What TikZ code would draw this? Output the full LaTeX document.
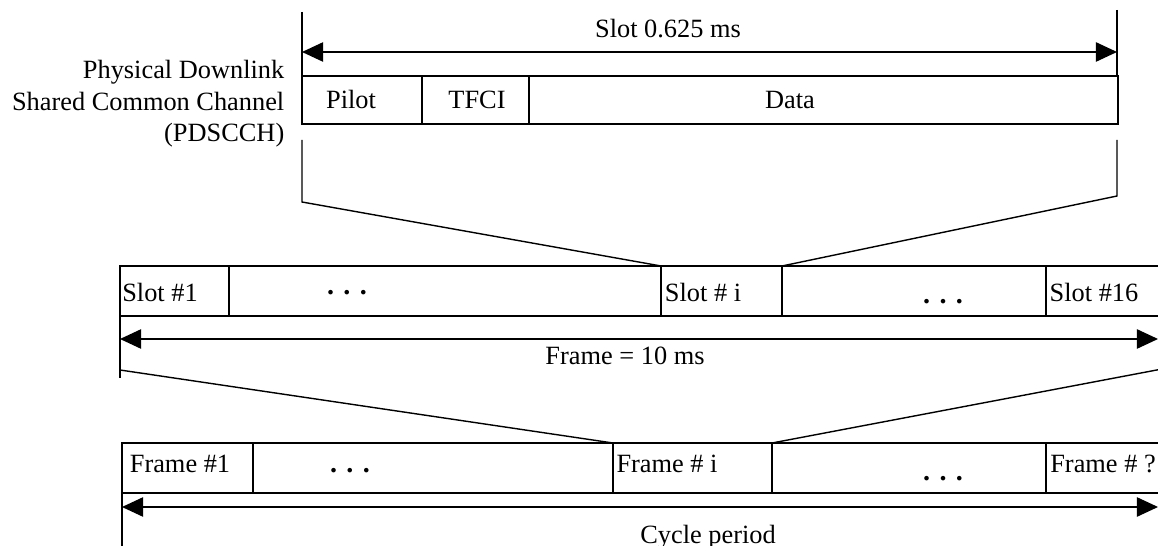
\documentclass[tikz,border=0pt]{standalone}
\usepackage{fontspec}
\setmainfont{Liberation Serif}
\usetikzlibrary{arrows.meta}
\tikzset{
  lbl/.style={anchor=base,inner sep=0pt},
  dotrow/.style={inner sep=0pt,font=\fontsize{16}{18}\selectfont\bfseries},
  span/.style={<->,>={Triangle[length=12pt,width=11pt]}},
}
\newcommand\threedots{.\hspace{0.33em}.\hspace{0.33em}.}
\begin{document}
\begin{tikzpicture}[x=0.02cm,y=-0.02cm,line width=0.8pt,font=\fontsize{15}{18}\selectfont]
	\useasboundingbox (0,0) rectangle (1158,546);
	\clip (0,0) rectangle (1158,546);
	% slot of the PDSCCH
	\node[anchor=east,align=right,inner sep=0pt] (chan) at (285,104) {Physical Downlink\\Shared Common Channel\\(PDSCCH)};
	\coordinate (slotA) at (302,76);
	\coordinate (slotB) at (1118,124);
	\draw (slotA) rectangle (slotB);
	\draw (422,76)--(422,124) (529,76)--(529,124);
	\node[lbl] (pilot) at (351,109) {Pilot};
	\node[lbl] (tfci) at (477,109) {TFCI};
	\node[lbl] (data) at (790,109) {Data};
	\coordinate (tickL) at (302,12);
	\coordinate (tickR) at (1117,10);
	\draw (tickL)--(slotA);
	\draw (tickR)--(1117,76);
	\draw[span] (302,52)--(1117,52);
	\node[lbl] (slotlen) at (668,38) {Slot 0.625 ms};
	% zoom lines down to slot i
	\coordinate (slotiL) at (661,266);
	\coordinate (slotiR) at (782,266);
	\draw (302,140)--(302,202)--(slotiL);
	\draw (1117,140)--(1117,196)--(slotiR);
	% frame of 16 slots
	\draw (120,266) rectangle (1175,316);
	\draw (229,266)--(229,316) (slotiL)--(661,316) (slotiR)--(782,316) (1046,266)--(1046,316);
	\node[lbl] (slot1) at (160,302) {Slot \#1};
	\node[lbl] (sloti) at (703,302) {Slot \# i};
	\node[lbl] (slot16) at (1094,302) {Slot \#16};
	\node[dotrow] (dotsA) at (347,293) {\threedots};
	\node[dotrow] (dotsB) at (943,302) {\threedots};
	\draw (120,266)--(120,378);
	\draw[span] (120,339)--(1158,339);
	\node[lbl] (framelen) at (625,365) {Frame = 10 ms};
	% zoom lines down to frame i
	\coordinate (frameiL) at (613,443);
	\coordinate (frameiR) at (772,443);
	\draw (120,370)--(frameiL);
	\draw (1162,369)--(frameiR);
	% cycle of frames
	\draw (122,443) rectangle (1175,493);
	\draw (253,443)--(253,493) (frameiL)--(613,493) (frameiR)--(772,493) (1046,443)--(1046,493);
	\node[lbl] (frame1) at (180,472) {Frame \#1};
	\node[lbl] (framei) at (667,472) {Frame \# i};
	\node[lbl] (framen) at (1103,472) {Frame \# ?};
	\node[dotrow] (dotsC) at (350,471) {\threedots};
	\node[dotrow] (dotsD) at (943,479) {\threedots};
	\draw (122,443)--(122,546);
	\draw[span] (122,507)--(1158,507);
	\node[lbl] (cycle) at (708,543) {Cycle period};
\end{tikzpicture}
\end{document}
